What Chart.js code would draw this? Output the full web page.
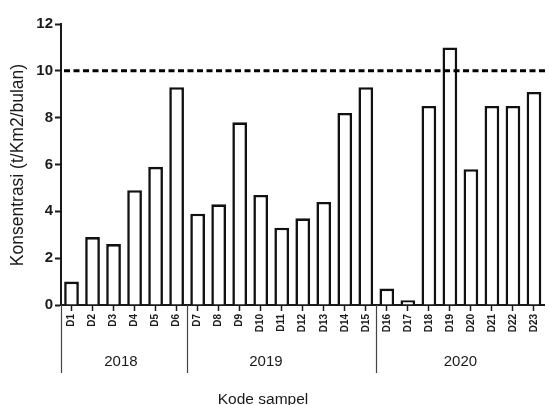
<!DOCTYPE html>
<html lang="en">
<head>
    <meta charset="UTF-8">
    <title>Konsentrasi per kode sampel</title>
    <script src="https://cdn.jsdelivr.net/npm/chart.js"></script>
    <style>
        html, body { margin: 0; padding: 0; background: #fff; }
        #wrap { width: 549px; height: 405px; }
    </style>
</head>
<body>
<div id="wrap"><canvas id="chart"></canvas></div>
<script>
    const sampleCodes = ["D1", "D2", "D3", "D4", "D5", "D6",
        "D7", "D8", "D9", "D10", "D11", "D12", "D13", "D14", "D15",
        "D16", "D17", "D18", "D19", "D20", "D21", "D22", "D23"];
    const concentration = [1.0, 2.9, 2.6, 4.9, 5.9, 9.3,
        3.9, 4.3, 7.8, 4.7, 3.3, 3.7, 4.4, 8.2, 9.3,
        0.7, 0.2, 8.5, 11.0, 5.8, 8.5, 8.5, 9.1];
    const years = ["2018", "2019", "2020"];
    const yearStart = [0, 6, 15];      // first sample index of each year
    const yearLabelAt = [2.35, 9.25, 18.5];
    const threshold = 10;

    const ink = '#1a1a1a';
    const font = "'Liberation Sans', Arial, sans-serif";

    const extras = {
        id: 'extras',
        afterDatasetsDraw(chart) {
            const { ctx, chartArea, scales: { x, y } } = chart;
            // threshold line
            ctx.save();
            ctx.strokeStyle = '#000';
            ctx.lineWidth = 3;
            ctx.setLineDash([6, 3.5]);
            const ty = y.getPixelForValue(threshold);
            ctx.beginPath();
            ctx.moveTo(chartArea.left + 3, ty);
            ctx.lineTo(chartArea.right + 2, ty);
            ctx.stroke();
            ctx.restore();
        },
        afterDraw(chart) {
            const { ctx, chartArea, scales: { x } } = chart;
            const step = x.width / sampleCodes.length;
            ctx.save();
            ctx.strokeStyle = '#444';
            ctx.lineWidth = 1.2;
            yearStart.forEach(i => {
                const px = Math.round(x.left + i * step) + 0.5;
                ctx.beginPath();
                ctx.moveTo(px, chartArea.bottom);
                ctx.lineTo(px, chartArea.bottom + 68);
                ctx.stroke();
            });
            ctx.fillStyle = ink;
            ctx.font = "15px " + font;
            ctx.textAlign = 'center';
            ctx.textBaseline = 'middle';
            years.forEach((yr, i) => {
                ctx.fillText(yr, x.getPixelForValue(yearLabelAt[i]), 362);
            });
            ctx.font = "15.5px " + font;
            ctx.fillText("Kode sampel", 263, 400);
            // y title
            ctx.font = "17.5px " + font;
            ctx.translate(18, 165);
            ctx.rotate(-Math.PI / 2);
            ctx.fillText("Konsentrasi (t/Km2/bulan)", 0, 0);
            ctx.restore();
        }
    };

    new Chart(document.getElementById('chart'), {
        type: 'bar',
        data: {
            labels: sampleCodes,
            datasets: [{
                data: concentration,
                backgroundColor: '#fff',
                borderColor: '#111',
                borderWidth: 2.6,
                borderSkipped: 'bottom',
                barPercentage: 0.7,
                categoryPercentage: 1.0
            }]
        },
        options: {
            responsive: true,
            maintainAspectRatio: false,
            animation: false,
            layout: { padding: { top: 24, right: 2, left: 0, bottom: 0 } },
            plugins: {
                legend: { display: false },
                tooltip: { enabled: false }
            },
            scales: {
                x: {
                    offset: true,
                    afterFit: s => { s.height = 100; },
                    grid: { offset: false, drawOnChartArea: false, tickLength: 6, color: ink, tickWidth: 1.5 },
                    border: { color: ink, width: 2 },
                    ticks: {
                        color: ink,
                        minRotation: 90, maxRotation: 90,
                        autoSkip: false,
                        padding: 3,
                        font: { family: font, size: 10, weight: 'bold' }
                    }
                },
                y: {
                    min: 0, max: 12,
                    afterFit: s => { s.width = 61; },
                    grid: { drawOnChartArea: false, tickLength: 6, color: ink, tickWidth: 2 },
                    border: { color: ink, width: 2 },
                    ticks: {
                        stepSize: 2,
                        color: ink,
                        padding: 2,
                        font: { family: font, size: 15, weight: 'bold' }
                    }
                }
            }
        },
        plugins: [extras]
    });
</script>
</body>
</html>
